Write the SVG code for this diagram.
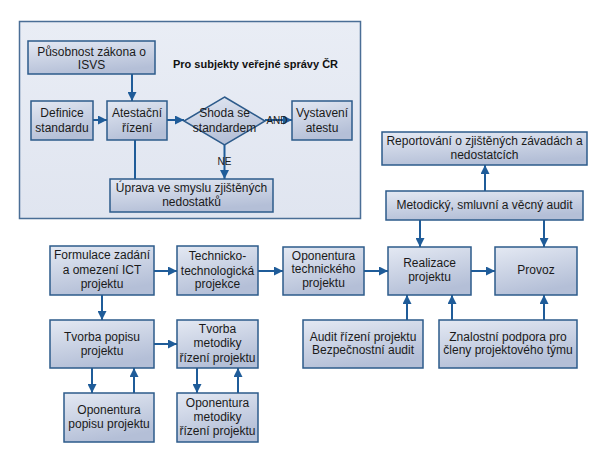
<svg xmlns="http://www.w3.org/2000/svg" width="605" height="456" viewBox="0 0 605 456">
<defs>
<linearGradient id="bg" x1="0" y1="0" x2="0.35" y2="1">
<stop offset="0" stop-color="#e4e9f3"/>
<stop offset="1" stop-color="#b4bfd7"/>
</linearGradient>
<linearGradient id="pg" x1="0" y1="0" x2="0" y2="1">
<stop offset="0" stop-color="#e9edf5"/>
<stop offset="1" stop-color="#e0e5f0"/>
</linearGradient>
<marker id="ah" markerUnits="userSpaceOnUse" markerWidth="10" markerHeight="9" refX="9" refY="4.5" orient="auto">
<path d="M0,0 L9,4.5 L0,9 z" fill="#1f5c99"/>
</marker>
<style>
.box{fill:url(#bg);stroke:#2d5b8b;stroke-width:1.5}
.t{font-family:"Liberation Sans",Arial,sans-serif;font-size:12px;fill:#1a1a1a;text-anchor:middle}
.s{font-family:"Liberation Sans",Arial,sans-serif;font-size:10px;fill:#1a1a1a;text-anchor:middle}
.c{stroke:#1f5c99;stroke-width:2;fill:none}
.a{marker-end:url(#ah)}
</style>
</defs>
<rect width="605" height="456" fill="#ffffff"/>
<g id="panel">
<rect x="19.5" y="21.5" width="341" height="197" fill="url(#pg)" stroke="#4a6e96" stroke-width="1.5"/>
<text x="255.5" y="68" font-family="Liberation Sans, Arial, sans-serif" font-size="11px" font-weight="bold" text-anchor="middle" fill="#111">Pro subjekty veřejné správy ČR</text>
</g>
<g id="connectors">
<line class="c a" x1="132" y1="74" x2="132" y2="101"/>
<line class="c a" x1="93" y1="120" x2="107" y2="120"/>
<line class="c a" x1="167" y1="120" x2="184" y2="120"/>
<line class="c a" x1="265" y1="120" x2="292" y2="120"/>
<line class="c a" x1="224.5" y1="145" x2="224.5" y2="179"/>
<line class="c" x1="135" y1="140" x2="135" y2="179"/>
<line class="c a" x1="154" y1="271" x2="177" y2="271"/>
<line class="c a" x1="258" y1="271" x2="283" y2="271"/>
<line class="c a" x1="364" y1="271" x2="388" y2="271"/>
<line class="c a" x1="471" y1="271" x2="495" y2="271"/>
<line class="c a" x1="102" y1="295" x2="102" y2="320"/>
<line class="c a" x1="154" y1="344" x2="177" y2="344"/>
<line class="c a" x1="92" y1="368" x2="92" y2="393"/>
<line class="c a" x1="134" y1="393" x2="134" y2="368"/>
<line class="c a" x1="197" y1="368" x2="197" y2="393"/>
<line class="c a" x1="238" y1="393" x2="238" y2="368"/>
<line class="c a" x1="485" y1="191" x2="485" y2="165"/>
<line class="c a" x1="420" y1="220" x2="420" y2="247"/>
<line class="c a" x1="544" y1="220" x2="544" y2="247"/>
<line class="c a" x1="407" y1="320" x2="407" y2="295"/>
<line class="c a" x1="452" y1="320" x2="452" y2="295"/>
<line class="c a" x1="544" y1="320" x2="544" y2="295"/>
<text class="s" x="277" y="124">AND</text>
<text class="s" x="224.5" y="165">NE</text>
</g>
<g id="pusobnost"><rect class="box" x="28" y="41" width="127" height="33"/><text class="t" x="91.5" y="56">Působnost zákona o</text><text class="t" x="91.5" y="69">ISVS</text></g>
<g id="definice"><rect class="box" x="31" y="101" width="62" height="39"/><text class="t" x="62" y="117">Definice</text><text class="t" x="62" y="132">standardu</text></g>
<g id="atestacni"><rect class="box" x="107" y="101" width="60" height="39"/><text class="t" x="137" y="117">Atestační</text><text class="t" x="137" y="132">řízení</text></g>
<g id="shoda"><polygon class="box" points="224.5,97 265,121 224.5,145 184,121"/><text class="t" x="224.5" y="117">Shoda se</text><text class="t" x="224.5" y="132">standardem</text></g>
<g id="vystaveni"><rect class="box" x="292" y="101" width="60" height="39"/><text class="t" x="322" y="117">Vystavení</text><text class="t" x="322" y="132">atestu</text></g>
<g id="uprava"><rect class="box" x="110" y="179" width="163" height="33"/><text class="t" x="191.5" y="192">Úprava ve smyslu zjištěných</text><text class="t" x="191.5" y="206">nedostatků</text></g>
<g id="reportovani"><rect class="box" x="382" y="132" width="205" height="33"/><text class="t" x="484.5" y="145">Reportování o zjištěných závadách a</text><text class="t" x="484.5" y="159">nedostatcích</text></g>
<g id="metodicky"><rect class="box" x="386" y="191" width="197" height="29"/><text class="t" x="484.5" y="209">Metodický, smluvní a věcný audit</text></g>
<g id="formulace"><rect class="box" x="50" y="246" width="104" height="49"/><text class="t" x="102" y="259">Formulace zadání</text><text class="t" x="102" y="274">a omezení ICT</text><text class="t" x="102" y="288">projektu</text></g>
<g id="technicko"><rect class="box" x="177" y="246" width="81" height="49"/><text class="t" x="217.5" y="260">Technicko-</text><text class="t" x="217.5" y="275">technologická</text><text class="t" x="217.5" y="288">projekce</text></g>
<g id="oponentura-tech"><rect class="box" x="283" y="247" width="81" height="48"/><text class="t" x="323.5" y="260">Oponentura</text><text class="t" x="323.5" y="273">technického</text><text class="t" x="323.5" y="287">projektu</text></g>
<g id="realizace"><rect class="box" x="388" y="247" width="83" height="48"/><text class="t" x="429.5" y="267">Realizace</text><text class="t" x="429.5" y="281">projektu</text></g>
<g id="provoz"><rect class="box" x="495" y="247" width="82" height="48"/><text class="t" x="536" y="274">Provoz</text></g>
<g id="tvorba-popisu"><rect class="box" x="50" y="320" width="104" height="48"/><text class="t" x="102" y="341">Tvorba popisu</text><text class="t" x="102" y="355">projektu</text></g>
<g id="tvorba-metodiky"><rect class="box" x="177" y="320" width="81" height="48"/><text class="t" x="217.5" y="333">Tvorba</text><text class="t" x="217.5" y="347">metodiky</text><text class="t" x="217.5" y="362">řízení projektu</text></g>
<g id="audit"><rect class="box" x="303" y="320" width="120" height="48"/><text class="t" x="363" y="341">Audit řízení projektu</text><text class="t" x="363" y="354">Bezpečnostní audit</text></g>
<g id="znalostni"><rect class="box" x="439" y="320" width="138" height="48"/><text class="t" x="508" y="341">Znalostní podpora pro</text><text class="t" x="508" y="354">členy projektového týmu</text></g>
<g id="oponentura-popisu"><rect class="box" x="64" y="393" width="90" height="49"/><text class="t" x="109" y="414">Oponentura</text><text class="t" x="109" y="428">popisu projektu</text></g>
<g id="oponentura-metodiky"><rect class="box" x="177" y="393" width="81" height="49"/><text class="t" x="217.5" y="407">Oponentura</text><text class="t" x="217.5" y="421">metodiky</text><text class="t" x="217.5" y="435">řízení projektu</text></g>
</svg>
